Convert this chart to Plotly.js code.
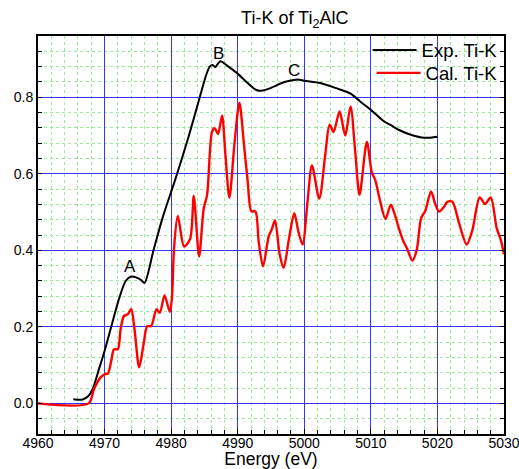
<!DOCTYPE html>
<html>
<head>
<meta charset="utf-8">
<script src="https://cdn.plot.ly/plotly-3.0.1.min.js"></script>
<style>
  html, body { margin: 0; padding: 0; background: #fff; }
  #chart { width: 519px; height: 469px; }
</style>
</head>
<body>
<div id="chart"></div>
<script>
// Experimental Ti K-edge XANES of Ti2AlC
const expEnergy = [4965.3, 4966.7, 4967.6, 4968.2, 4969.15, 4970.0, 4971.15, 4972.15, 4973.15, 4973.9,
  4974.9, 4975.5, 4976.0, 4977.35, 4978.8, 4980.6, 4982.5, 4984.3, 4985.3, 4985.8,
  4986.2, 4986.65, 4986.95, 4987.4, 4988.3, 4989.9, 4991.5, 4992.8, 4993.55, 4994.8,
  4996.9, 4998.4, 4999.2, 5000.0, 5002.4, 5004.9, 5006.9, 5008.4, 5010.0, 5011.9,
  5013.0, 5014.15, 5016.0, 5018.0, 5020.0];
const expMu = [0.011, 0.010, 0.020, 0.037, 0.089, 0.137, 0.210, 0.272, 0.319, 0.331,
  0.328, 0.322, 0.315, 0.400, 0.490, 0.584, 0.690, 0.800, 0.860, 0.880,
  0.884, 0.879, 0.886, 0.894, 0.884, 0.863, 0.837, 0.819, 0.817, 0.823,
  0.839, 0.845, 0.846, 0.843, 0.837, 0.823, 0.810, 0.789, 0.767, 0.738,
  0.727, 0.715, 0.702, 0.694, 0.697];

// Calculated Ti K-edge spectrum
const calEnergy = [4960.0, 4967.6, 4968.4, 4969.4, 4970.0, 4970.5, 4971.05, 4971.4, 4972.0, 4972.4,
  4972.9, 4973.5, 4974.0, 4974.5, 4975.2, 4975.9, 4976.4, 4977.0, 4977.8, 4978.3,
  4979.0, 4979.8, 4980.1, 4980.45, 4981.0, 4981.95, 4982.85, 4983.4, 4984.2, 4984.9,
  4985.4, 4986.15, 4986.55, 4987.05, 4987.65, 4988.15, 4988.75, 4989.5, 4990.25, 4990.9,
  4991.5, 4992.05, 4992.65, 4993.15, 4993.8, 4994.65, 4995.1, 4995.6, 4996.3, 4996.9,
  4997.7, 4998.5, 4999.1, 4999.75, 5000.5, 5001.15, 5002.25, 5003.15, 5003.8, 5004.4,
  5005.3, 5006.15, 5006.95, 5007.65, 5008.3, 5009.4, 5010.15, 5010.65, 5011.4, 5012.2,
  5013.0, 5013.6, 5014.2, 5014.9, 5015.4, 5016.25, 5016.9, 5017.55, 5018.15, 5019.05,
  5019.65, 5020.25, 5021.0, 5021.5, 5022.25, 5023.25, 5024.4, 5025.25, 5026.35, 5027.15,
  5028.0, 5028.9, 5029.5, 5030.0];
const calMu = [0.000, 0.000, 0.037, 0.068, 0.076, 0.078, 0.115, 0.141, 0.142, 0.193,
  0.228, 0.233, 0.247, 0.193, 0.094, 0.159, 0.202, 0.202, 0.246, 0.237,
  0.282, 0.239, 0.272, 0.410, 0.490, 0.410, 0.430, 0.542, 0.384, 0.510,
  0.545, 0.710, 0.719, 0.704, 0.752, 0.650, 0.537, 0.676, 0.786, 0.684,
  0.580, 0.502, 0.502, 0.423, 0.358, 0.436, 0.454, 0.478, 0.390, 0.354,
  0.430, 0.497, 0.450, 0.415, 0.530, 0.622, 0.535, 0.650, 0.728, 0.709,
  0.763, 0.700, 0.776, 0.658, 0.545, 0.683, 0.603, 0.584, 0.528, 0.482,
  0.519, 0.493, 0.458, 0.423, 0.406, 0.373, 0.402, 0.484, 0.502, 0.554,
  0.522, 0.501, 0.514, 0.527, 0.527, 0.471, 0.415, 0.453, 0.538, 0.521,
  0.538, 0.458, 0.428, 0.390];

// Feature labels
const peakLabels = ['A', 'B', 'C'];
const peakEnergy = [4973.8, 4987.05, 4998.45];
const peakMu = [0.358, 0.914, 0.869];

// Axis ticks
const xTicks = [4960, 4970, 4980, 4990, 5000, 5010, 5020, 5030];
const yTicks = [0.0, 0.2, 0.4, 0.6, 0.8];

const seriesNames = ['Exp. Ti-K', 'Cal. Ti-K'];
const chartTitle = 'Ti-K of Ti<sub>2</sub>AlC';
const xTitle = 'Energy (eV)';

const FONT = 'Liberation Sans, Arial, sans-serif';

const traces = [
  {
    x: expEnergy, y: expMu, name: seriesNames[0], type: 'scatter', mode: 'lines',
    legend: 'legend',
    line: { color: '#000000', width: 2, shape: 'spline', smoothing: 0.8 }
  },
  {
    x: calEnergy, y: calMu, name: seriesNames[1], type: 'scatter', mode: 'lines',
    legend: 'legend2',
    line: { color: '#ff0000', width: 2.4, shape: 'spline', smoothing: 0.8 }
  }
];

const minorGrid = {
  ticks: 'inside', ticklen: 4, tickcolor: '#000', tickwidth: 1,
  showgrid: true, gridcolor: '#9aea9a', griddash: 'dot', gridwidth: 1
};

const legendStyle = (y) => ({
  x: 0.997, xanchor: 'right', y: y, yanchor: 'top',
  bgcolor: 'rgba(0,0,0,0)', borderwidth: 0,
  font: { family: FONT, size: 18.5, color: '#000' },
  itemwidth: 44
});

const layout = {
  width: 519, height: 469,
  margin: { l: 38, r: 15, t: 36, b: 35 },
  paper_bgcolor: '#ffffff', plot_bgcolor: '#ffffff',
  font: { family: FONT, color: '#000', size: 14 },
  title: {
    text: chartTitle, font: { family: FONT, size: 18, color: '#000' },
    x: 0.551, xref: 'paper', xanchor: 'center', y: 0.962, yref: 'container', yanchor: 'middle'
  },
  showlegend: true,
  legend: legendStyle(1.0113),
  legend2: legendStyle(0.954),
  xaxis: {
    range: [4960, 5030], tickmode: 'array', tickvals: xTicks,
    ticktext: xTicks.map(String),
    ticks: 'inside', ticklen: 5, tickcolor: '#000', tickwidth: 1,
    showline: true, linecolor: '#000', linewidth: 2, mirror: true,
    showgrid: true, gridcolor: '#3535ff', gridwidth: 1,
    zeroline: false,
    tickfont: { family: FONT, size: 14 },
    ticklabelstandoff: -5,
    ticklabeloverflow: 'allow',
    title: { text: xTitle, font: { family: FONT, size: 17.5 }, standoff: 1 },
    minor: Object.assign({ dtick: 2, tick0: 4960 }, minorGrid),
    automargin: false
  },
  yaxis: {
    range: [-0.08, 0.96], tickmode: 'array', tickvals: yTicks,
    ticktext: yTicks.map(v => v.toFixed(1)),
    ticks: 'inside', ticklen: 4, tickcolor: '#000', tickwidth: 1,
    showline: true, linecolor: '#000', linewidth: 2, mirror: 'ticks',
    showgrid: true, gridcolor: '#3535ff', gridwidth: 1,
    zeroline: false,
    tickfont: { family: FONT, size: 14 },
    minor: Object.assign({ dtick: 0.04, tick0: 0 }, minorGrid),
    automargin: false
  },
  annotations: peakLabels.map((t, i) => ({
    x: peakEnergy[i], y: peakMu[i], xref: 'x', yref: 'y',
    text: t, showarrow: false, xanchor: 'center', yanchor: 'middle',
    font: { family: FONT, size: 17, color: '#000' }
  }))
};

Plotly.newPlot('chart', traces, layout, { displayModeBar: false, staticPlot: true });
</script>
</body>
</html>
